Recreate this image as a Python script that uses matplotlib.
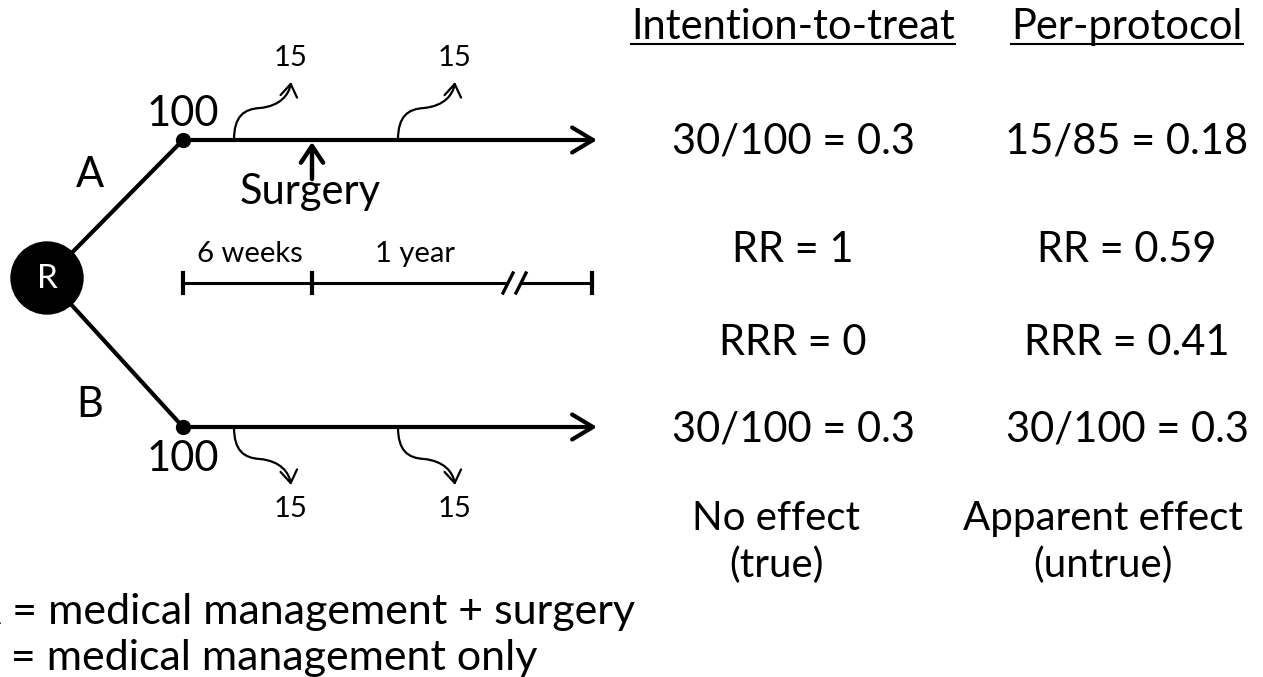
import matplotlib
matplotlib.use('Agg')
import matplotlib.pyplot as plt
from matplotlib.path import Path
from matplotlib.patches import FancyArrowPatch, Circle

font = {'family': 'Lato', 'weight': 'normal', 'size': 30}
matplotlib.rc('font', **font)

# numbers in the diagram
arms = ['A', 'B']
n_randomised = [100, 100]
lost_6wk = [15, 15]
lost_1yr = [15, 15]
period_labels = ['6 weeks', '1 year']

headings = ['Intention-to-treat', 'Per-protocol']
itt_rows = ['30/100 = 0.3', 'RR = 1', 'RRR = 0', '30/100 = 0.3']
pp_rows = ['15/85 = 0.18', 'RR = 0.59', 'RRR = 0.41', '30/100 = 0.3']
conclusions = ['No effect\n(true)', 'Apparent effect\n(untrue)']
legend_lines = ['A = medical management + surgery', 'B = medical management only']

# layout (pixel coords)
W, H = 1263, 677
rx, ry, rr = 47, 278, 36
x0, x_end = 183, 597
arm_y = [140, 427]
arm_label_y = [175, 405]
num_y = [114, 459]
x_surg = 312
x_drop = [234, 398]
col_x = [793, 1127]
concl_x = [776, 1103]
row_y = [142, 250, 343, 430]
concl_y = 542

fig = plt.figure(figsize=(W / 100, H / 100), dpi=100)
ax = fig.add_axes([0, 0, 1, 1])
ax.set_xlim(0, W)
ax.set_ylim(H, 0)
ax.axis('off')

# randomisation node
ax.add_patch(Circle((rx, ry), rr, color='black', zorder=3))
ax.text(rx, ry + 1, 'R', color='white', ha='center', va='center', fontsize=24, zorder=4)

for i, arm in enumerate(arms):
    y = arm_y[i]
    sgn = -1 if i == 0 else 1
    ax.plot([rx, x0], [ry, y], color='black', lw=3, solid_capstyle='round')
    ax.add_patch(FancyArrowPatch((x0, y), (x_end, y), arrowstyle='->,head_length=15,head_width=9',
                                 color='black', lw=3, mutation_scale=1, shrinkA=0, shrinkB=0))
    ax.plot(x0, y, 'o', color='black', ms=10)
    ax.text(x0, num_y[i], str(n_randomised[i]), ha='center', va='center')
    ax.text(90, arm_label_y[i], arm, ha='center', va='center')

    # dropouts
    for xd, n in zip(x_drop, [lost_6wk[i], lost_1yr[i]]):
        verts = [(xd, y), (xd, y + sgn * 24), (xd + 10, y + sgn * 31), (xd + 26, y + sgn * 32),
                 (xd + 46, y + sgn * 34), (xd + 55, y + sgn * 45), (xd + 57, y + sgn * 58)]
        codes = [Path.MOVETO] + [Path.CURVE4] * 6
        ax.add_patch(FancyArrowPatch(path=Path(verts, codes), arrowstyle='->,head_length=9,head_width=6',
                                     color='black', lw=1.6, mutation_scale=1))
        ax.text(xd + 57, y + sgn * 82, str(n), ha='center', va='center', fontsize=21)

# surgery arrow
ax.add_patch(FancyArrowPatch((x_surg, 179), (x_surg, arm_y[0] + 2), arrowstyle='->,head_length=12,head_width=8',
                             color='black', lw=3.2, mutation_scale=1, shrinkA=0, shrinkB=0))
ax.text(x_surg - 2, 192, 'Surgery', ha='center', va='center')

# timeline
ty = 283
ax.plot([x0, 505], [ty, ty], color='black', lw=2.2)
ax.plot([522, 592], [ty, ty], color='black', lw=2.2)
for xt in [x0, x_surg, 592]:
    ax.plot([xt, xt], [ty - 10, ty + 10], color='black', lw=3)
for xb in [508, 521]:
    ax.plot([xb - 5, xb + 5], [ty + 10, ty - 10], color='black', lw=2.4)
ax.text((x0 + x_surg) / 2 + 2, 254, period_labels[0], ha='center', va='center', fontsize=21)
ax.text(415, 254, period_labels[1], ha='center', va='center', fontsize=21)

# results columns
for cx, head, rows in zip(col_x, headings, [itt_rows, pp_rows]):
    t = ax.text(cx, 27, head, ha='center', va='center')
    fig.canvas.draw()
    bb = t.get_window_extent()
    (xa, _), (xb, _) = ax.transData.inverted().transform([[bb.x0, bb.y0], [bb.x1, bb.y0]])
    ax.plot([xa, xb], [44, 44], color='black', lw=1.5)
    for yy, s in zip(row_y, rows):
        ax.text(cx, yy, s, ha='center', va='center')
for cx, s in zip(concl_x, conclusions):
    ax.text(cx, concl_y, s, ha='center', va='center', linespacing=1.32, fontsize=29)

# key
for k, s in enumerate(legend_lines):
    ax.text(-28, 612 + 46 * k, s, ha='left', va='center', fontsize=31)

fig.savefig('out.png', dpi=100)
